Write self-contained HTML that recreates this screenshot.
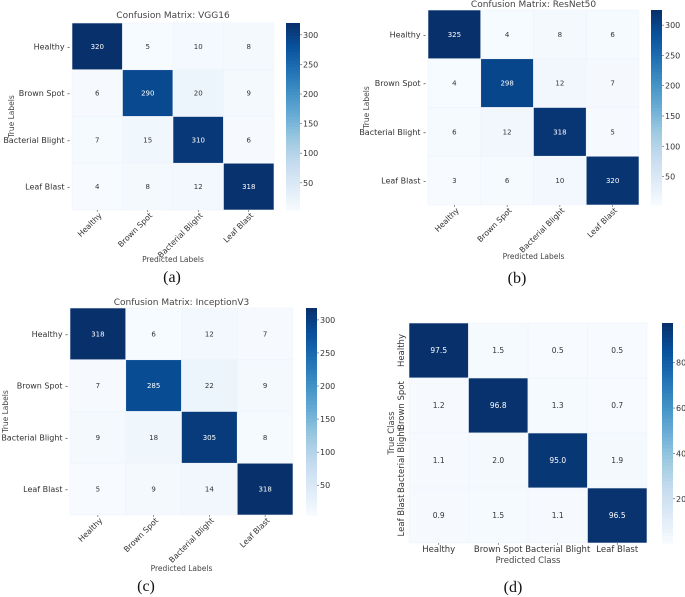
<!DOCTYPE html>
<html><head><meta charset="utf-8">
<style>
html,body{margin:0;padding:0;background:#fff;}
svg{display:block;font-family:"DejaVu Sans","Liberation Sans",sans-serif;}
.cap{font-family:"Liberation Serif",serif;font-size:16px;fill:#111;}
</style></head>
<body>
<svg id="fig" width="685" height="597" viewBox="0 0 685 597" xmlns="http://www.w3.org/2000/svg"></svg>
<script>
const classLabels = ["Healthy","Brown Spot","Bacterial Blight","Leaf Blast"];
const valsVGG = [[320,5,10,8],[6,290,20,9],[7,15,310,6],[4,8,12,318]];
const valsResNet = [[325,4,8,6],[4,298,12,7],[6,12,318,5],[3,6,10,320]];
const valsInception = [[318,6,12,7],[7,285,22,9],[9,18,305,8],[5,9,14,318]];
const valsPct = [[97.5,1.5,0.5,0.5],[1.2,96.8,1.3,0.7],[1.1,2.0,95.0,1.9],[0.9,1.5,1.1,96.5]];
const cbTicksCount = [50,100,150,200,250,300];
const cbTicksPct = [20,40,60,80];

const NS="http://www.w3.org/2000/svg";
const svg=document.getElementById('fig');
const stops=["#f7fbff","#deebf7","#c6dbef","#9ecae1","#6baed6","#4292c6","#2171b5","#08519c","#08306b"];
function hex(h){return [1,3,5].map(i=>parseInt(h.substr(i,2),16));}
function blues(t){t=Math.max(0,Math.min(1,t));const p=t*8,i=Math.min(7,Math.floor(p)),f=p-i;const a=hex(stops[i]),b=hex(stops[i+1]);return 'rgb('+a.map((v,k)=>Math.round(v+(b[k]-v)*f)).join(',')+')';}
function el(tag,attrs,parent){const e=document.createElementNS(NS,tag);for(const k in attrs)e.setAttribute(k,attrs[k]);(parent||svg).appendChild(e);return e;}
function txt(s,attrs,parent){const e=el('text',attrs,parent);e.textContent=s;return e;}

function panel(o){
  const g=el('g',{});
  
  
  const flat=o.vals.flat();const vmin=Math.min(...flat),vmax=Math.max(...flat);
  const n=classLabels.length;const cw=(o.x1-o.x0)/n,ch=(o.y1-o.y0)/n;
  const xPos=j=>o.x0+j*cw, yPos=i=>o.y0+i*ch;
  for(let i=0;i<n;i++)for(let j=0;j<n;j++){
    const v=o.vals[i][j];const t=(v-vmin)/(vmax-vmin);
    const r=el('rect',{x:xPos(j),y:yPos(i),width:cw,height:ch,fill:blues(t),stroke:'#eef4fa','stroke-width':0.6},g);
    
    
    const tx=txt(o.fmt(v),{x:xPos(j)+cw/2,y:yPos(i)+ch/2+2.5,'text-anchor':'middle','font-size':o.rotY?7.5:7,fill:t>0.5?'#fff':'#333'},g);
    
    
  }
  for(let i=0;i<n;i++){
    const cy=yPos(i)+ch/2;
    if(o.rotY){
      const t=txt(classLabels[i],{x:0,y:0,'text-anchor':'middle','font-size':8.5,fill:'#333',transform:'translate('+(o.x0-5)+','+cy+') rotate(-90)'},g);
      
      
    }else{
      const t=txt(classLabels[i]+' -',{x:o.x0-2,y:cy+3,'text-anchor':'end','font-size':8,fill:'#333'},g);
      
      
    }
  }
  for(let j=0;j<n;j++){
    const cx=xPos(j)+cw/2;
    el('line',{x1:cx,x2:cx,y1:o.y1,y2:o.y1+2,stroke:'#555','stroke-width':0.6},g);
    let t;
    if(o.rotX){
      t=txt(classLabels[j],{x:0,y:0,'text-anchor':'end','font-size':7.8,fill:'#333',transform:'translate('+(cx+5)+','+(o.y1+6)+') rotate(-45)'},g);
    }else{
      t=txt(classLabels[j],{x:cx,y:o.y1+9,'text-anchor':'middle','font-size':8.5,fill:'#333'},g);
    }
    
    
  }
  if(o.title){const t=txt(o.title,{x:(o.x0+o.x1)/2,y:o.titleY,'text-anchor':'middle','font-size':9,fill:'#444'},g);
    }
  const xl=txt(o.xlabel,{x:(o.x0+o.x1)/2,y:o.xlabelY,'text-anchor':'middle','font-size':o.rotX?7.5:8.5,fill:'#444'},g);
  
  const yl=txt(o.ylabel,{x:0,y:0,'text-anchor':'middle','font-size':o.rotX?7.5:8.5,fill:'#444',transform:'translate('+o.ylabelX+','+(o.y0+o.y1)/2+') rotate(-90)'},g);
  
  const cb=el('g',{},g);
  
  
  const steps=60,hh=(o.y1-o.y0)/steps;
  for(let k=0;k<steps;k++){el('rect',{x:o.cbx,y:o.y1-(k+1)*hh,width:o.cbw,height:hh+0.5,fill:blues((k+0.5)/steps)},cb);}
  const cyv=v=>o.y1-(v-vmin)/(vmax-vmin)*(o.y1-o.y0);
  o.ticks.forEach(v=>{const y=cyv(v);
    el('line',{x1:o.cbx+o.cbw,x2:o.cbx+o.cbw+2,y1:y,y2:y,stroke:'#555','stroke-width':0.6},cb);
    const t=txt(String(v),{x:o.cbx+o.cbw+3,y:y+3,'font-size':8,fill:'#333'},cb);
    });
  const c=txt(o.cap,{x:o.capX,y:o.capY,'text-anchor':'middle',class:'cap'},g);
  
}
const intFmt=v=>String(v), pctFmt=v=>v.toFixed(1);
panel({name:'panel-a-vgg16',vals:valsVGG,fmt:intFmt,x0:72,x1:274,y0:23,y1:210,cbx:286,cbw:14,ticks:cbTicksCount,title:'Confusion Matrix: VGG16',titleY:18,xlabel:'Predicted Labels',xlabelY:262,ylabel:'True Labels',ylabelX:14,rotX:true,cap:'(a)',capX:172,capY:282});
panel({name:'panel-b-resnet50',vals:valsResNet,fmt:intFmt,x0:428,x1:639,y0:10,y1:205,cbx:651,cbw:11,ticks:cbTicksCount,title:'Confusion Matrix: ResNet50',titleY:7,xlabel:'Predicted Labels',xlabelY:259,ylabel:'True Labels',ylabelX:369,rotX:true,cap:'(b)',capX:517,capY:283});
panel({name:'panel-c-inceptionv3',vals:valsInception,fmt:intFmt,x0:70,x1:293,y0:308,y1:515,cbx:306,cbw:11,ticks:cbTicksCount,title:'Confusion Matrix: InceptionV3',titleY:305,xlabel:'Predicted Labels',xlabelY:571,ylabel:'True Labels',ylabelX:8,rotX:true,cap:'(c)',capX:146,capY:591});
panel({name:'panel-d-percent',vals:valsPct,fmt:pctFmt,x0:409,x1:647,y0:323,y1:543,cbx:662,cbw:11,ticks:cbTicksPct,title:'',titleY:0,xlabel:'Predicted Class',xlabelY:563,ylabel:'True Class',ylabelX:394,rotX:false,rotY:true,cap:'(d)',capX:513,capY:592});
</script>
</body></html>
